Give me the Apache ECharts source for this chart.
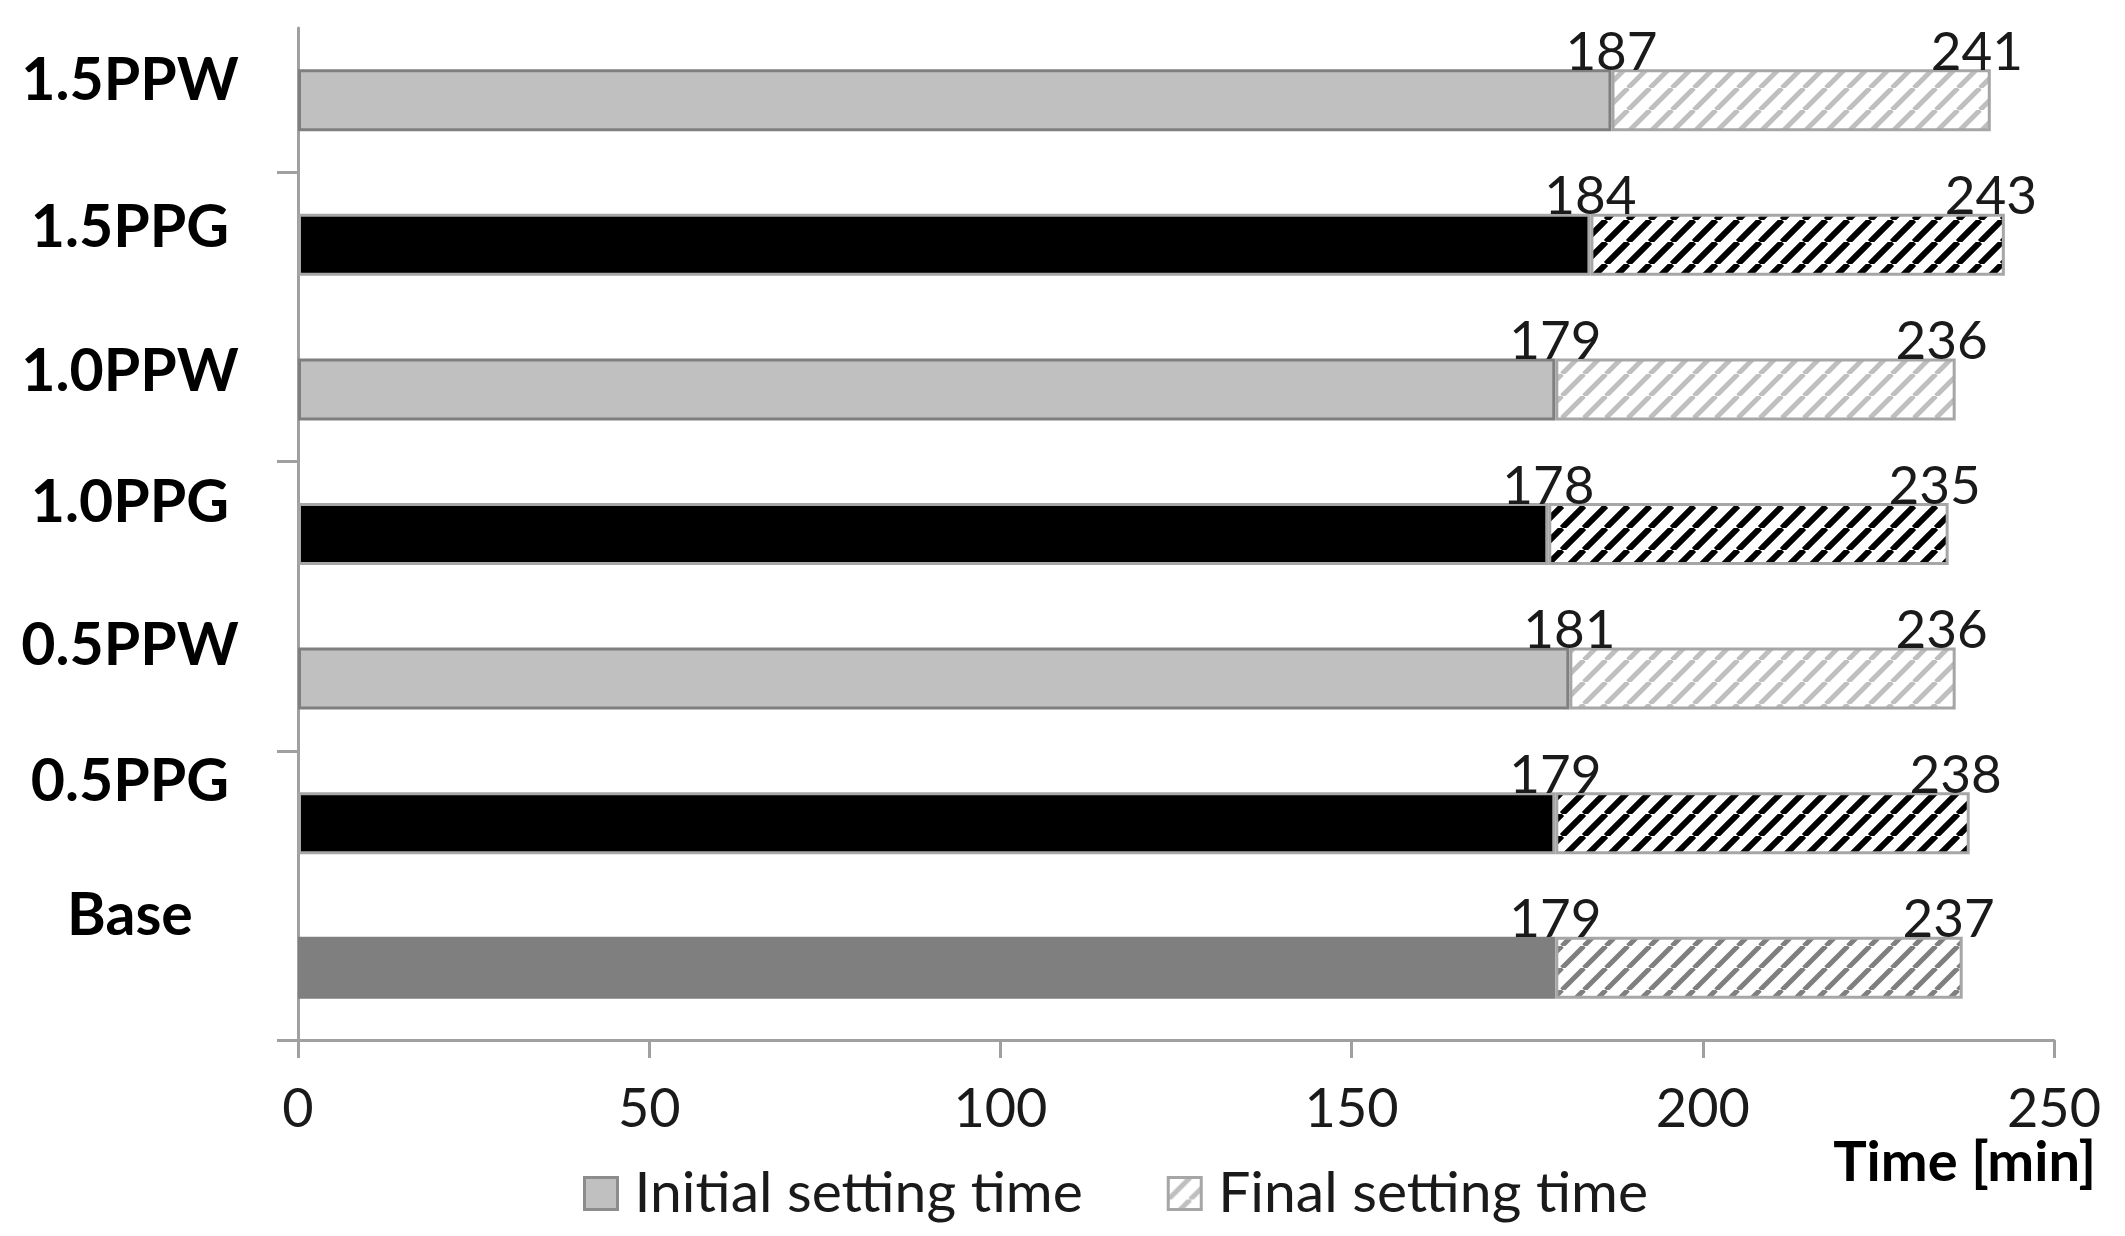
<!DOCTYPE html>
<html>
<head>
<meta charset="utf-8">
<script src="https://cdn.jsdelivr.net/npm/echarts@6/dist/echarts.min.js"></script>
<style>
  html, body { margin: 0; padding: 0; background: #fff; }
  #SettingTime { width: 2125px; height: 1236px; }
</style>
</head>
<body>
<div id="SettingTime"></div>
<script>
// data
var categories = ['1.5PPW', '1.5PPG', '1.0PPW', '1.0PPG', '0.5PPW', '0.5PPG', 'Base'];
var initialTimes = [187, 184, 179, 178, 181, 179, 179];
var finalTimes = [241, 243, 236, 235, 236, 238, 237];
var xTicks = [0, 50, 100, 150, 200, 250];

// how far each category label sits above its bar (px)
var labelShift = [19, 17, 17, 31, 33, 41, 52];

// diagonal hatch pattern, like excel's wide upward diagonal
function hatch(lineColor, lineWidth) {
    var s = 22;
    var c = document.createElement('canvas');
    c.width = s;
    c.height = s;
    var ctx = c.getContext('2d');
    ctx.fillStyle = '#ffffff';
    ctx.fillRect(0, 0, s, s);
    ctx.strokeStyle = lineColor;
    ctx.lineWidth = lineWidth;
    ctx.beginPath();
    [-s, 0, s].forEach(function (k) {
        ctx.moveTo(k, s);
        ctx.lineTo(k + s, 0);
    });
    ctx.stroke();
    return { image: c, repeat: 'repeat' };
}

function kind(name) {
    if (name === 'Base') return 'base';
    return name.indexOf('PPG') > 0 ? 'ppg' : 'ppw';
}

var solidStyle = {
    ppw: { color: '#c0c0c0', borderColor: '#7f7f7f', borderWidth: 3 },
    ppg: { color: '#000000', borderColor: '#a6a6a6', borderWidth: 3 },
    base: { color: '#7f7f7f', borderColor: '#7f7f7f', borderWidth: 3 }
};
var hatchStyle = {
    ppw: { color: hatch('#bfbfbf', 5), borderColor: '#a6a6a6', borderWidth: 3 },
    ppg: { color: hatch('#000000', 6), borderColor: '#a6a6a6', borderWidth: 3 },
    base: { color: hatch('#7f7f7f', 5), borderColor: '#a6a6a6', borderWidth: 3 }
};

var initialData = categories.map(function (c, i) {
    return { value: initialTimes[i], itemStyle: solidStyle[kind(c)] };
});
var finalData = categories.map(function (c, i) {
    return { value: finalTimes[i] - initialTimes[i], itemStyle: hatchStyle[kind(c)] };
});

// one rich style per category so each label can sit at its own height
var labelRich = {};
labelShift.forEach(function (s, i) {
    labelRich['c' + i] = {
        fontFamily: 'Lato',
        fontSize: 59,
        fontWeight: 'bold',
        color: '#000',
        align: 'center',
        padding: [0, 0, s * 2, 0]
    };
});

var dom = document.getElementById('SettingTime');
var myChart = echarts.init(dom);
var option = {
    animation: false,
    backgroundColor: '#ffffff',
    textStyle: { fontFamily: 'Lato' },
    title: {
        text: 'Time [min]',
        right: 24,
        top: 1130,
        textStyle: { fontFamily: 'Lato', fontSize: 56, fontWeight: 'bold', color: '#000' }
    },
    legend: {
        left: 578,
        top: 1160,
        icon: 'rect',
        itemWidth: 33,
        itemHeight: 32,
        itemGap: 84,
        selectedMode: false,
        textStyle: { fontFamily: 'Lato', fontSize: 57, color: '#1a1a1a', padding: [0, 0, 0, 12] },
        data: [
            { name: 'Initial setting time', itemStyle: { color: '#c0c0c0', borderColor: '#8c8c8c', borderWidth: 3 } },
            { name: 'Final setting time', itemStyle: { color: hatch('#bfbfbf', 5), borderColor: '#a6a6a6', borderWidth: 3 } }
        ]
    },
    grid: {
        left: 298,
        right: 71,
        top: 28,
        bottom: 196,
        containLabel: false,
        outerBoundsMode: 'none'
    },
    xAxis: {
        type: 'value',
        min: xTicks[0],
        max: xTicks[xTicks.length - 1],
        interval: xTicks[1] - xTicks[0],
        axisLine: { show: true, lineStyle: { color: '#a0a0a0', width: 3 } },
        axisTick: { show: true, length: 18, lineStyle: { color: '#a0a0a0', width: 3 } },
        splitLine: { show: false },
        axisLabel: { margin: 43, fontFamily: 'Lato', fontSize: 54, color: '#1a1a1a' }
    },
    yAxis: {
        type: 'category',
        inverse: true,
        data: categories,
        axisLine: { show: true, lineStyle: { color: '#a0a0a0', width: 3 } },
        axisTick: {
            show: true,
            length: 21,
            interval: function (index) { return index % 2 === 1; },
            lineStyle: { color: '#a0a0a0', width: 3 }
        },
        axisLabel: {
            margin: 168,
            align: 'center',
            formatter: function (value, index) { return '{c' + index + '|' + value + '}'; },
            rich: labelRich
        }
    },
    series: [
        {
            name: 'Initial setting time',
            type: 'bar',
            stack: 'time',
            barWidth: 62,
            itemStyle: { color: '#c0c0c0', borderColor: '#7f7f7f', borderWidth: 3 },
            label: {
                show: true,
                position: ['100%', 0],
                align: 'center',
                verticalAlign: 'bottom',
                offset: [0, 10],
                fontFamily: 'Lato',
                fontSize: 53,
                color: '#1a1a1a'
            },
            data: initialData
        },
        {
            name: 'Final setting time',
            type: 'bar',
            stack: 'time',
            barWidth: 62,
            itemStyle: { color: hatch('#bfbfbf', 5), borderColor: '#a6a6a6', borderWidth: 3 },
            label: {
                show: true,
                position: ['100%', 0],
                align: 'center',
                verticalAlign: 'bottom',
                offset: [-14, 10],
                fontFamily: 'Lato',
                fontSize: 53,
                color: '#1a1a1a',
                formatter: function (p) { return finalTimes[p.dataIndex]; }
            },
            data: finalData
        }
    ]
};
if (option && typeof option === 'object') {
    myChart.setOption(option, true);
    window.onresize = myChart.resize;
}
</script>
</body>
</html>
